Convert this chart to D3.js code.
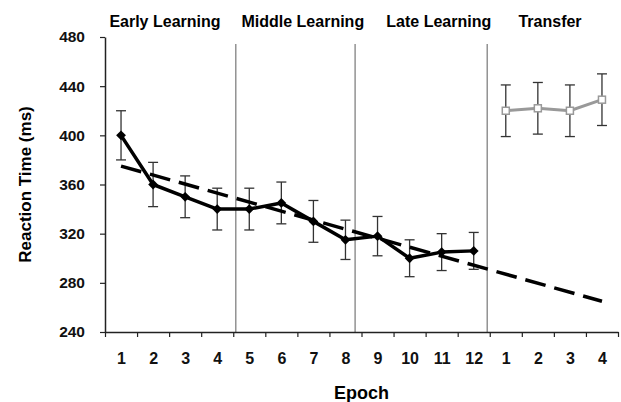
<!DOCTYPE html>
<html>
<head>
<meta charset="utf-8">
<script src="https://cdn.jsdelivr.net/npm/d3@7"></script>
<style>
  body { margin: 0; background: #fff; }
  svg { display: block; font-family: "Liberation Sans", Arial, sans-serif; font-weight: bold; }
</style>
</head>
<body>
<svg id="chart" width="621" height="402"></svg>
<script>
// epochs shown on the x axis (learning 1-12, then transfer 1-4)
var epochLabels = ['1','2','3','4','5','6','7','8','9','10','11','12','1','2','3','4'];
var phases = ['Early Learning', 'Middle Learning', 'Late Learning', 'Transfer'];

// mean reaction time (ms) and standard error
var learningRT = [400, 360, 350, 340, 340, 345, 330, 315, 318, 300, 305, 306];
var learningSE = [20, 18, 17, 17, 17, 17, 17, 16, 16, 15, 15, 15];
var transferRT = [420, 422, 420, 429];
var transferSE = [21, 21, 21, 21];

// linear trend over learning, extended across transfer (first / last epoch)
var trendRT = [375, 265];

var yTicks = [240, 280, 320, 360, 400, 440, 480];

var svg = d3.select('#chart');

// index scale: band i spans [i, i+1]
var x = d3.scaleLinear().domain([0, epochLabels.length]).range([105, 618]);
var y = d3.scaleLinear().domain([240, 480]).range([332, 37]);
var cx = function(i){ return x(i + 0.5); };

// phase dividers and phase titles
var dividerAt = [4.08, 7.8, 11.92];
var phaseAt = [1.87, 6.17, 10.41, 13.88];

svg.selectAll('line.divider').data(dividerAt).enter().append('line')
  .attr('class', 'divider')
  .attr('x1', function(d){ return x(d); })
  .attr('x2', function(d){ return x(d); })
  .attr('y1', 44).attr('y2', y(240))
  .attr('stroke', '#777').attr('stroke-width', 1.2);

svg.selectAll('text.phase').data(phases).enter().append('text')
  .attr('class', 'phase')
  .attr('x', function(d, i){ return x(phaseAt[i]); })
  .attr('y', 27)
  .attr('text-anchor', 'middle')
  .attr('font-size', 16)
  .text(function(d){ return d; });

// y axis
var yAxis = svg.append('g')
  .attr('transform', 'translate(' + x(0) + ',0)')
  .call(d3.axisLeft(y).tickValues(yTicks).tickSize(5).tickPadding(15).tickSizeOuter(0));
yAxis.select('.domain').attr('stroke', '#222').attr('stroke-width', 1.5);
yAxis.selectAll('.tick line').attr('stroke', '#222').attr('stroke-width', 1.2);
yAxis.selectAll('text').attr('font-size', 15.5).attr('font-family', null).attr('fill', '#111');

// x axis: ticks on band edges, labels in band centres
var xAxis = svg.append('g')
  .attr('transform', 'translate(0,' + y(240) + ')')
  .call(d3.axisBottom(x).tickValues(d3.range(0, epochLabels.length + 1)).tickSize(5).tickFormat('').tickSizeOuter(0));
xAxis.select('.domain').attr('stroke', '#222').attr('stroke-width', 1.5);
xAxis.selectAll('.tick line').attr('stroke', '#222').attr('stroke-width', 1.2);

svg.selectAll('text.xlab').data(epochLabels).enter().append('text')
  .attr('class', 'xlab')
  .attr('x', function(d, i){ return cx(i) + 0.5; })
  .attr('y', 364)
  .attr('text-anchor', 'middle')
  .attr('font-size', 16)
  .attr('fill', '#111')
  .text(function(d){ return d; });

// axis titles
svg.append('text')
  .attr('x', (x.range()[0] + x.range()[1]) / 2)
  .attr('y', 399)
  .attr('text-anchor', 'middle')
  .attr('font-size', 18)
  .text('Epoch');

svg.append('text')
  .attr('transform', 'translate(31,' + ((y(240) + y(480)) / 2) + ') rotate(-90)')
  .attr('text-anchor', 'middle')
  .attr('font-size', 17)
  .text('Reaction Time (ms)');

// error bars
function errorBars(vals, se, offset, cls){
  var g = svg.append('g').attr('class', cls).attr('stroke', '#333').attr('stroke-width', 1.3);
  vals.forEach(function(v, i){
    var px = cx(i + offset);
    g.append('line').attr('x1', px).attr('x2', px).attr('y1', y(v - se[i])).attr('y2', y(v + se[i]));
    g.append('line').attr('x1', px - 5).attr('x2', px + 5).attr('y1', y(v - se[i])).attr('y2', y(v - se[i]));
    g.append('line').attr('x1', px - 5).attr('x2', px + 5).attr('y1', y(v + se[i])).attr('y2', y(v + se[i]));
  });
}
errorBars(learningRT, learningSE, 0, 'err-learn');
errorBars(transferRT, transferSE, learningRT.length, 'err-transfer');

// trend line (dashed)
svg.append('line')
  .attr('x1', cx(0)).attr('y1', y(trendRT[0]))
  .attr('x2', cx(epochLabels.length - 1)).attr('y2', y(trendRT[1]))
  .attr('stroke', '#000').attr('stroke-width', 3.5)
  .attr('stroke-dasharray', '21,9');

// learning series
var line = d3.line()
  .x(function(d){ return d[0]; })
  .y(function(d){ return y(d[1]); });

svg.append('path')
  .datum(learningRT.map(function(v, i){ return [cx(i), v]; }))
  .attr('d', line)
  .attr('fill', 'none').attr('stroke', '#000').attr('stroke-width', 3.5)
  .attr('stroke-linejoin', 'round');

svg.selectAll('path.dia').data(learningRT).enter().append('path')
  .attr('class', 'dia')
  .attr('d', d3.symbol().type(d3.symbolSquare).size(48))
  .attr('transform', function(d, i){ return 'translate(' + cx(i) + ',' + y(d) + ') rotate(45)'; })
  .attr('fill', '#000');

// transfer series
var off = learningRT.length;
svg.append('path')
  .datum(transferRT.map(function(v, i){ return [cx(i + off), v]; }))
  .attr('d', line)
  .attr('fill', 'none').attr('stroke', '#999').attr('stroke-width', 3);

svg.selectAll('rect.sq').data(transferRT).enter().append('rect')
  .attr('class', 'sq')
  .attr('x', function(d, i){ return cx(i + off) - 3.5; })
  .attr('y', function(d){ return y(d) - 3.5; })
  .attr('width', 7).attr('height', 7)
  .attr('fill', '#fff').attr('stroke', '#999').attr('stroke-width', 1.5);
</script>
</body>
</html>
